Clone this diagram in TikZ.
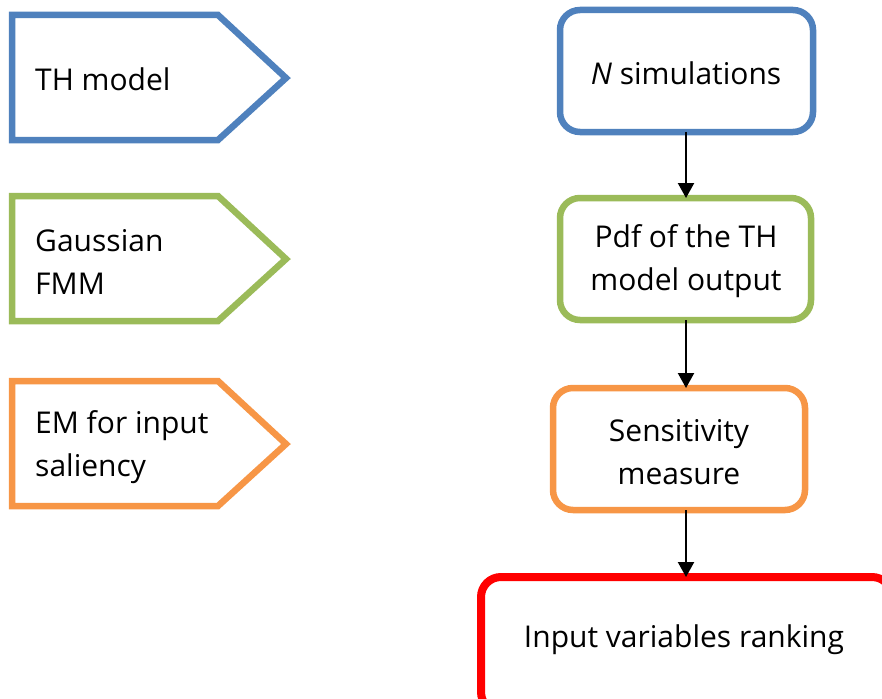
\documentclass[tikz,border=0pt]{standalone}
\usepackage{fontspec}
\setmainfont{Open Sans}
\usetikzlibrary{arrows.meta}
\definecolor{cblue}{HTML}{4F81BD}
\definecolor{cgreen}{HTML}{9BBB59}
\definecolor{corange}{HTML}{F79646}
\definecolor{cred}{HTML}{FF0000}
\begin{document}
\begin{tikzpicture}[x=1pt,y=-1pt,
  txt/.style={font=\fontsize{30}{43}\selectfont, inner sep=0pt},
  tag/.style={line width=6.5pt, line join=miter, fill=white},
  stepbox/.style={line width=6.5pt, rounded corners=20pt, fill=white},
  conn/.style={line width=2.2pt, -{Triangle[width=16pt,length=15pt]}}]
\useasboundingbox (0,0) rectangle (882,698);
\clip (0,0) rectangle (882,698);
% left tags
\draw[tag, draw=cblue] (12,15) -- (218,15) -- (286,78) -- (218,140) -- (12,140) -- cycle;
\node[txt, anchor=west, align=left] (th) at (35,79) {TH model};
\draw[tag, draw=cgreen] (12,196) -- (218,196) -- (286,259) -- (218,321) -- (12,321) -- cycle;
\node[txt, anchor=west, align=left] (fmm) at (35,262) {Gaussian\\FMM};
\draw[tag, draw=corange] (12,381) -- (218,381) -- (286,444) -- (218,506) -- (12,506) -- cycle;
\node[txt, anchor=west, align=left] (em) at (35,447) {EM for input\\saliency};
% right boxes
\draw[stepbox, draw=cblue] (560,10) rectangle (813,132);
\coordinate (b1t) at (686,10); \coordinate (b1b) at (686,132);
\node[txt] (n1) at (686,73) {\textit{N} simulations};
\draw[stepbox, draw=cgreen] (560,198) rectangle (811,320);
\coordinate (b2t) at (686,198); \coordinate (b2b) at (686,320);
\node[txt, align=center] (n2) at (686,261) {Pdf of the TH\\model output};
\draw[stepbox, draw=corange] (553,388) rectangle (805,510);
\coordinate (b3t) at (686,388); \coordinate (b3b) at (686,510);
\node[txt, align=center] (n3) at (679,452) {Sensitivity\\measure};
\draw[stepbox, draw=cred, line width=8pt] (481,577) rectangle (892,712);
\coordinate (b4t) at (686,577);
\node[txt] (n4) at (684,640) {Input variables ranking};
% connectors
\draw[conn] (b1b) -- (b2t);
\draw[conn] (b2b) -- (b3t);
\draw[conn] (b3b) -- (b4t);
\end{tikzpicture}
\end{document}
